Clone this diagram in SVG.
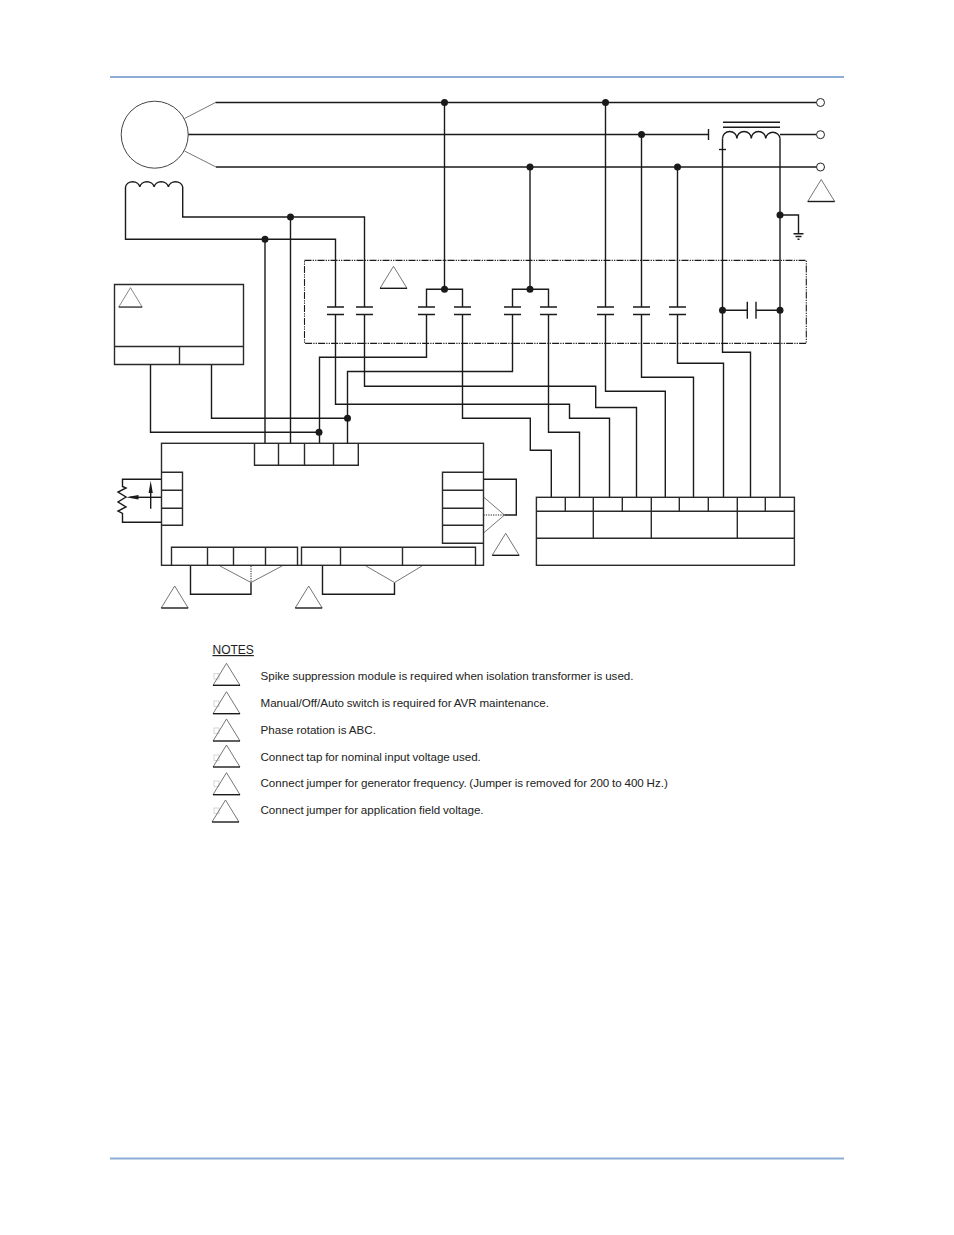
<svg xmlns="http://www.w3.org/2000/svg" width="954" height="1235" viewBox="0 0 954 1235">
<style>
.w{fill:none;stroke:#1a1a1a;stroke-width:1.4}
.b{fill:none;stroke:#2a2a2a;stroke-width:1.4}
.g{fill:none;stroke:#666;stroke-width:.9}
.d{fill:none;stroke:#1a1a1a;stroke-width:1;stroke-dasharray:1.2 1.2}
.dd{fill:none;stroke:#1a1a1a;stroke-width:1.1;stroke-dasharray:7 1.2 1.2 1.2 1.2 1.2}
.j{fill:#1a1a1a;stroke:none}
.o{fill:#fff;stroke:#222;stroke-width:1}
.h{stroke:#8eadd6;stroke-width:1.8}
.t{font-family:"Liberation Sans",Arial,sans-serif;font-size:11.6px;fill:#222}
.s{fill:#fff;stroke:#ccc;stroke-width:.8}
</style>
<defs>
<g id="tri"><path class="g" d="M0 22 L13.500 0 L27 22"/><path class="w" d="M0 22H27"/></g>
<circle id="dot" r="3.500" class="j"/>
<g id="cap"><path class="w" d="M-8.500 0H8.500M-8.500 7.500H8.500"/></g>
</defs>

<g id="header-rules">
<path class="h" d="M110 77H844M110 1158.500H844"/>
</g>

<g id="connectors">
<path class="g" d="M184.500 118.500L215.500 102.500"/>
<path class="w" d="M215.500 102.500H816.500"/>
<path class="w" d="M188 134.500H708.500M708.500 129V140M780 134.500H816.500"/>
<path class="g" d="M184.500 151L216 167"/>
<path class="w" d="M216 167H816.500"/>
<path class="w" d="M125.500 187V239.300H335.500V307M335.500 314.500V404.300H569.500V418.300H609.500V497.300"/>
<path class="w" d="M182.700 187V217H364.500V307M364.500 314.500V386.300H595.700V407.500H636.500V497.300"/>
<path class="w" d="M265 239.300V443.300M290.500 217V443.300"/>
<path class="w" d="M444.500 102.500V289.300M426.500 307V289.300H462.500V307"/>
<path class="w" d="M426.500 314.500V357.300H319.500V443.300"/>
<path class="w" d="M462.500 314.500V418.300H530.300V450.300H551.300V497.300"/>
<path class="w" d="M530 167V289.300M512.500 307V289.300H548.500V307"/>
<path class="w" d="M512.500 314.500V371.500H347.500V443.300"/>
<path class="w" d="M548.500 314.500V432.300H579.500V497.300"/>
<path class="w" d="M605.500 102.500V307M605.500 314.500V391.300H665.300V497.300"/>
<path class="w" d="M641.500 134.500V307M641.500 314.500V377.300H693.500V497.300"/>
<path class="w" d="M677.500 167V307M677.500 314.500V363.300H723.500V497.300"/>
<path class="w" d="M722.500 138.500V352.300H750.500V497.300"/>
<path class="w" d="M719 149.500H726"/>
<path class="w" d="M780 138.500V497.300"/>
<path class="w" d="M780 215H798.500V233.700"/>
<path class="w" d="M722.500 310.300H747.300M756 310.300H780"/>
<path class="w" d="M150.500 364.500V432.300H319.500"/>
<path class="w" d="M211.500 364.500V418.300H347.500"/>
<path class="w" d="M161.500 479.300H122.500V486.500L126 488L118 492L126 497L118 502L126 507L118 511L122.500 513.500V522.300H161.500"/>
<path class="w" d="M161.500 497.300H130"/>
<path class="w" d="M150.700 508.700V488"/>
<polygon class="j" points="126,497.300 138.500,495 138.500,499.600"/>
<polygon class="j" points="150.700,480.700 148.600,493 152.800,493"/>
<path class="w" d="M190.500 565.300V594.300H251V582.300"/>
<path class="g" d="M220 566L251 582.500L282 566"/>
<path class="d" d="M251 566V582"/>
<path class="w" d="M322.500 565.300V594.300H394.500V582.500"/>
<path class="g" d="M366 566L394.500 582.500L422 566"/>
<path class="w" d="M483.500 479.300H516.300V515H504.300"/>
<path class="g" d="M483.500 497L504.500 515L483.500 533"/>
<path class="d" d="M483.500 515H504"/>
<use href="#dot" x="444.500" y="102.500"/><use href="#dot" x="605.500" y="102.500"/>
<use href="#dot" x="641.500" y="134.500"/><use href="#dot" x="530" y="167"/><use href="#dot" x="677.500" y="167"/>
<use href="#dot" x="290.500" y="217"/><use href="#dot" x="265" y="239.300"/>
<use href="#dot" x="780" y="215"/><use href="#dot" x="444.500" y="289.300"/><use href="#dot" x="530" y="289.300"/>
<use href="#dot" x="722.500" y="310.300"/><use href="#dot" x="780" y="310.300"/>
<use href="#dot" x="319" y="432.300"/><use href="#dot" x="347.500" y="418.300"/>
</g>

<g id="generator"><circle cx="154.700" cy="134.700" r="33.500" fill="none" stroke="#444" stroke-width="1"/></g>
<g id="field-coil"><path class="w" d="M125.500 187a7.200 6 0 0 1 14.300 0a7.200 6 0 0 1 14.300 0a7.200 6 0 0 1 14.300 0a7.200 6 0 0 1 14.300 0"/></g>

<g id="terminals">
<circle class="o" cx="820.500" cy="102.500" r="4"/><circle class="o" cx="820.500" cy="134.700" r="4"/><circle class="o" cx="820.500" cy="167" r="4"/>
</g>

<g id="transformer">
<path class="w" d="M723 122.300H780M723 127.300H780"/>
<path class="w" d="M722.500 138.500a7.200 7 0 0 1 14.400 0a7.200 7 0 0 1 14.400 0a7.200 7 0 0 1 14.400 0a7.200 7 0 0 1 14.300 0"/>
</g>

<g id="ground"><path class="w" d="M793.500 233.700H803.500M795.500 236.500H801.500M797.500 239.300H799.500"/></g>

<g id="filter-module">
<rect class="dd" x="304.500" y="260.400" width="501.800" height="83"/>
<use href="#cap" x="335.500" y="307"/><use href="#cap" x="364.500" y="307"/>
<use href="#cap" x="426.500" y="307"/><use href="#cap" x="462.500" y="307"/>
<use href="#cap" x="512.500" y="307"/><use href="#cap" x="548.500" y="307"/>
<use href="#cap" x="605.500" y="307"/><use href="#cap" x="641.500" y="307"/><use href="#cap" x="677.500" y="307"/>
<path class="w" d="M747.300 301.700V318.700M756 301.700V318.700"/>
</g>

<g id="switch-box">
<path class="b" d="M114.500 284.500H243.500V364.500H114.500ZM114.500 346.500H243.500M179.500 346.500V364.500"/>
</g>

<g id="avr">
<rect class="b" x="161.500" y="443.300" width="322" height="122"/>
<path class="b" d="M254.500 443.300V465.300H358.300V443.300M278.500 443.300V465.300M304.500 443.300V465.300M333.500 443.300V465.300"/>
<path class="b" d="M161.500 472.300H182.500V525.300H161.500M161.500 490.300H182.500M161.500 508.300H182.500"/>
<path class="b" d="M483.500 472.300H442.500V543.300H483.500M442.500 490.300H483.500M442.500 508.300H483.500M442.500 525.300H483.500"/>
<path class="b" d="M171.500 565.300V547.300H297.500V565.300M207.500 547.300V565.300M233.500 547.300V565.300M265.500 547.300V565.300"/>
<path class="b" d="M301.500 565.300V547.300H475.500V565.300M340.500 547.300V565.300M402.500 547.300V565.300"/>
</g>

<g id="terminal-block">
<rect class="b" x="536.400" y="497.300" width="258" height="68"/>
<path class="b" d="M536.400 511.300H794.400M536.400 538.300H794.400"/>
<path class="b" d="M565.300 497.300V511.300M593.300 497.300V538.300M622.300 497.300V511.300M651.300 497.300V538.300M679.300 497.300V511.300M708.300 497.300V511.300M737.300 497.300V538.300M765.300 497.300V511.300"/>
</g>

<g id="note-flags">
<use href="#tri" x="807.700" y="179.500"/>
<use href="#tri" x="380" y="266.300"/>
<g transform="translate(118.700 287.700) scale(.87 .88)"><use href="#tri"/></g>
<use href="#tri" x="161.200" y="586"/>
<use href="#tri" x="295.200" y="586"/>
<use href="#tri" x="492.200" y="533.300"/>
</g>

<g id="notes">
<text class="t" x="212.500" y="654" style="font-size:12px" text-decoration="underline">NOTES</text>
<rect class="s" x="214" y="673.500" width="5" height="5.500"/><use href="#tri" x="213" y="663.300"/>
<text class="t" x="260.500" y="680" word-spacing="-0.3">Spike suppression module is required when isolation transformer is used.</text>
<rect class="s" x="214" y="701" width="5" height="5.500"/><use href="#tri" x="213" y="691.700"/>
<text class="t" x="260.500" y="707" word-spacing="-0.5">Manual/Off/Auto switch is required for AVR maintenance.</text>
<rect class="s" x="214" y="728" width="5" height="5.500"/><use href="#tri" x="213" y="719"/>
<text class="t" x="260.500" y="734" word-spacing="-0.2">Phase rotation is ABC.</text>
<rect class="s" x="214" y="755" width="5" height="5.500"/><use href="#tri" x="213" y="745"/>
<text class="t" x="260.500" y="761" word-spacing="-0.55">Connect tap for nominal input voltage used.</text>
<rect class="s" x="214" y="781" width="5" height="5.500"/><use href="#tri" x="213" y="772.700"/>
<text class="t" x="260.500" y="787" word-spacing="-0.46">Connect jumper for generator frequency. (Jumper is removed for 200 to 400 Hz.)</text>
<rect class="s" x="214" y="808" width="5" height="5.500"/><use href="#tri" x="212" y="800"/>
<text class="t" x="260.500" y="814" word-spacing="-0.5">Connect jumper for application field voltage.</text>
</g>
</svg>
